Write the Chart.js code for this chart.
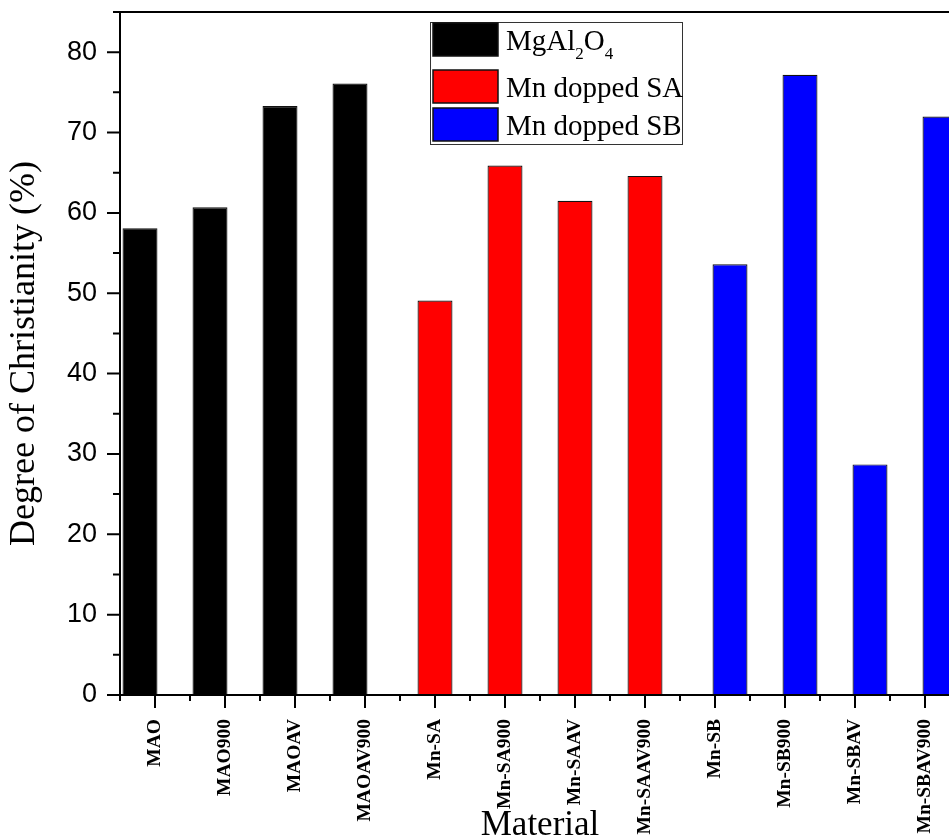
<!DOCTYPE html>
<html>
<head>
<meta charset="utf-8">
<title>Degree of Christianity</title>
<script src="https://cdn.jsdelivr.net/npm/chart.js@4.4.1/dist/chart.umd.min.js"></script>
<style>
  html, body { margin: 0; padding: 0; background: #fff; overflow: hidden; }
  #wrap { width: 960px; height: 840px; }
</style>
</head>
<body>
<div id="wrap"><canvas id="chart" width="960" height="840"></canvas></div>
<script>
// samples along the x axis
const materials = ['MAO', 'MAO900', 'MAOAV', 'MAOAV900', 'Mn-SA', 'Mn-SA900',
    'Mn-SAAV', 'Mn-SAAV900', 'Mn-SB', 'Mn-SB900', 'Mn-SBAV', 'Mn-SBAV900'];

// one series per material family, null where the family has no sample
const mgal2o4 = [58.1, 60.7, 73.3, 76.1, null, null, null, null, null, null, null, null];
const mnDoppedSA = [null, null, null, null, 49.1, 65.9, 61.5, 64.6, null, null, null, null];
const mnDoppedSB = [null, null, null, null, null, null, null, null, 53.6, 77.2, 28.7, 72.0];

const seriesLabels = ['MgAl2O4', 'Mn dopped SA', 'Mn dopped SB'];
const seriesColors = ['#000000', '#ff0000', '#0000ff'];
const yTicks = [0, 10, 20, 30, 40, 50, 60, 70, 80];

const SERIF = "'Liberation Serif', 'Times New Roman', serif";
const SANS = "'Liberation Sans', Arial, sans-serif";

// draws text where digits are written as subscripts (MgAl2O4)
function drawSubscripted(ctx, text, x, y) {
    let cx = x;
    for (const ch of text) {
        const isDigit = ch >= '0' && ch <= '9';
        ctx.font = isDigit ? `17px ${SERIF}` : `29px ${SERIF}`;
        ctx.fillText(ch, cx, isDigit ? y + 9 : y);
        cx += ctx.measureText(ch).width;
    }
}

// Origin-style frame, outside ticks and boxed legend
const originFrame = {
    id: 'originFrame',
    afterDatasetsDraw(chart) {
        const { ctx, chartArea: a, scales } = chart;
        const xs = scales.x;
        const ys = scales.y;
        ctx.save();
        ctx.strokeStyle = '#000';
        ctx.lineWidth = 2;
        ctx.lineCap = 'butt';

        ctx.beginPath();
        // frame
        ctx.moveTo(a.left, a.top);
        ctx.lineTo(a.left, a.bottom + 1);
        ctx.moveTo(a.left - 1, a.bottom);
        ctx.lineTo(a.right, a.bottom);
        ctx.moveTo(a.left - 7, a.top);
        ctx.lineTo(a.right, a.top);
        ctx.lineTo(a.right, a.bottom);

        // y ticks: majors on labelled values, minors halfway
        const step = yTicks[1] - yTicks[0];
        for (let v = yTicks[0]; v <= ys.max; v += step / 2) {
            const py = ys.getPixelForValue(v);
            const len = yTicks.includes(v) ? 13 : 7;
            ctx.moveTo(a.left - len, py);
            ctx.lineTo(a.left, py);
        }

        // x ticks: majors on categories, minors on category borders
        const half = (xs.getPixelForValue(1) - xs.getPixelForValue(0)) / 2;
        materials.forEach((m, i) => {
            const px = xs.getPixelForValue(i);
            ctx.moveTo(px, a.bottom);
            ctx.lineTo(px, a.bottom + 13);
            ctx.moveTo(px - half, a.bottom);
            ctx.lineTo(px - half, a.bottom + 6);
        });
        ctx.stroke();

        // legend
        const box = { x: 430, y: 22, w: 252, h: 122 };
        const rowTops = [0, 47, 85];
        ctx.textBaseline = 'alphabetic';
        ctx.textAlign = 'left';
        ctx.lineWidth = 1;
        ctx.strokeStyle = '#333';
        ctx.strokeRect(box.x + 0.5, box.y + 0.5, box.w, box.h);
        chart.data.datasets.forEach((ds, k) => {
            const top = box.y + rowTops[k] + 1;
            ctx.fillStyle = ds.backgroundColor;
            ctx.fillRect(box.x + 3, top, 65, 33);
            ctx.strokeStyle = '#111';
            ctx.lineWidth = 1.5;
            ctx.strokeRect(box.x + 3, top, 65, 33);
            ctx.fillStyle = '#000';
            drawSubscripted(ctx, ds.label, box.x + 76, top + 27);
        });
        ctx.restore();
    },
};

new Chart(document.getElementById('chart'), {
    type: 'bar',
    data: {
        labels: materials,
        datasets: [mgal2o4, mnDoppedSA, mnDoppedSB].map((values, k) => ({
            label: seriesLabels[k],
            data: values,
            backgroundColor: seriesColors[k],
            borderColor: '#111',
            borderWidth: 1.2,
            categoryPercentage: 0.643,
            barPercentage: 2.33,
        })),
    },
    options: {
        responsive: false,
        animation: false,
        layout: { padding: { top: 12, left: 0, right: 0, bottom: 0 } },
        plugins: {
            legend: { display: false },
            tooltip: { enabled: false },
        },
        scales: {
            x: {
                grid: { display: false, drawTicks: false },
                border: { display: false },
                ticks: {
                    autoSkip: false,
                    minRotation: 90,
                    maxRotation: 90,
                    padding: 24,
                    color: '#000',
                    font: { family: SERIF, size: 19.5, weight: 'bold' },
                },
                title: {
                    display: true,
                    text: 'Material',
                    color: '#000',
                    font: { family: SERIF, size: 35, weight: 'normal' },
                    padding: { top: 0, bottom: -7 },
                },
                afterFit(scale) {
                    scale.height = 145;
                    scale.paddingLeft = 0;
                    scale.paddingRight = 0;
                },
            },
            y: {
                min: 0,
                max: 85,
                grid: { display: false, drawTicks: false },
                border: { display: false },
                ticks: {
                    padding: 23,
                    color: '#000',
                    font: { family: SANS, size: 27, lineHeight: 0.8 },
                },
                afterBuildTicks(scale) {
                    scale.ticks = yTicks.map((v) => ({ value: v }));
                },
                title: {
                    display: true,
                    text: 'Degree of Christianity (%)',
                    color: '#000',
                    font: { family: SERIF, size: 36, weight: 'normal' },
                    padding: { top: 3, bottom: 0 },
                },
                afterFit(scale) {
                    scale.width = 120;
                    scale.paddingTop = 0;
                    scale.paddingBottom = 0;
                },
            },
        },
    },
    plugins: [originFrame],
});
</script>
</body>
</html>
